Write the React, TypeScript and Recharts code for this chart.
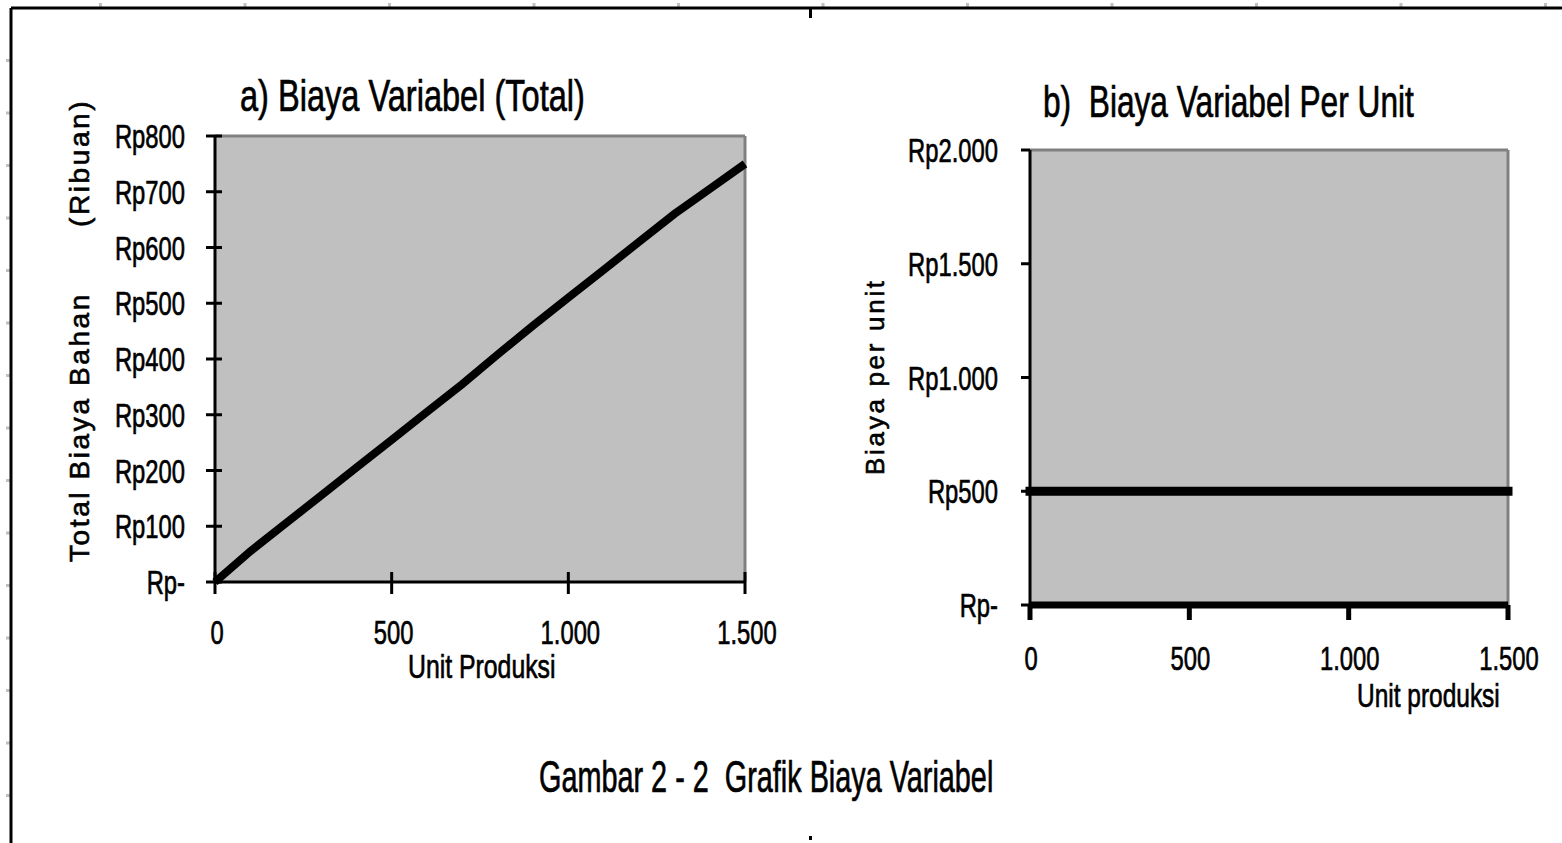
import { LineChart, Line, XAxis, YAxis, CartesianGrid, ReferenceLine } from 'recharts';

// a) total variable cost (Rp, ribuan) by units produced
const unitsTotal = [0, 100, 200, 300, 400, 500, 600, 700, 800, 900, 1000, 1100, 1200, 1300, 1400, 1500];
const costTotal = [0, 55, 105, 155, 205, 255, 305, 355, 408, 460, 510, 560, 610, 660, 705, 750];

// b) variable cost per unit (Rp)
const unitsPerUnit = [0, 1500];
const costPerUnit = [500, 500];

const xTicks = [0, 500, 1000, 1500];
const yTicksTotal = [0, 100, 200, 300, 400, 500, 600, 700, 800];
const yTicksPerUnit = [0, 500, 1000, 1500, 2000];

const FONT = "'Liberation Sans', Arial, sans-serif";

const fmt = (v: number) => String(v).replace(/\B(?=(\d{3})+(?!\d))/g, '.');
const rp = (v: number) => (v === 0 ? 'Rp-' : 'Rp' + fmt(v));

const dataTotal = unitsTotal.map((u, i) => ({ u, c: costTotal[i] }));
const dataPerUnit = unitsPerUnit.map((u, i) => ({ u, c: costPerUnit[i] }));

function Txt({ x, y, size, sx, anchor = 'start', children }: any) {
  return (
    <text
      transform={`translate(${x} ${y}) scale(${sx} 1)`}
      textAnchor={anchor}
      fontSize={size}
      fontFamily={FONT}
      fill="#000"
      stroke="#000"
      strokeWidth={0.7}
      style={{ whiteSpace: 'pre' }}
    >
      {children}
    </text>
  );
}

// ticks that cross the axis line, like the spreadsheet original
const YTickA = ({ y, payload }: any) => (
  <g>
    <line x1={206} x2={222} y1={y} y2={y} stroke="#000" strokeWidth={3} />
    <Txt x={185} y={y + 12} size={34} sx={0.7} anchor="end">{rp(payload.value)}</Txt>
  </g>
);

const XTickA = ({ x, payload }: any) => (
  <g>
    <line x1={x} x2={x} y1={572} y2={594} stroke="#000" strokeWidth={3} />
    <Txt x={x + 2} y={644} size={34} sx={0.7} anchor="middle">{fmt(payload.value)}</Txt>
  </g>
);

const YTickB = ({ y, payload }: any) => (
  <g>
    <line x1={1021 - 800} x2={230} y1={y} y2={y} stroke="#000" strokeWidth={3} />
    <Txt x={998 - 800} y={y + 12} size={34} sx={0.7} anchor="end">{rp(payload.value)}</Txt>
  </g>
);

const XTickB = ({ x, payload }: any) => (
  <g>
    <line x1={x} x2={x} y1={605} y2={620} stroke="#000" strokeWidth={5} />
    <Txt x={x + 1} y={670} size={34} sx={0.7} anchor="middle">{fmt(payload.value)}</Txt>
  </g>
);

export default function App() {
  const topMarks = Array.from({ length: 11 }, (_, i) => 100 + i * 144.5);
  const leftMarks = Array.from({ length: 15 }, (_, i) => 60 + i * 52.5);

  return (
    <div style={{ position: 'absolute', left: 0, top: 0, width: 1562, height: 843, background: '#fff', overflow: 'hidden' }}>
      <div style={{ position: 'absolute', left: 0, top: 0 }}>
        <LineChart width={800} height={700} data={dataTotal} margin={{ top: 136, right: 55, bottom: 0, left: 0 }}>
          <CartesianGrid horizontal={false} vertical={false} fill="#c0c0c0" />
          <ReferenceLine y={800} stroke="#808080" strokeWidth={3} />
          <ReferenceLine x={1500} stroke="#808080" strokeWidth={3} />
          <XAxis
            dataKey="u"
            type="number"
            domain={[0, 1500]}
            ticks={xTicks}
            height={118}
            axisLine={{ stroke: '#000', strokeWidth: 3 }}
            tickLine={false}
            tick={XTickA}
            interval={0}
          />
          <YAxis
            type="number"
            domain={[0, 800]}
            ticks={yTicksTotal}
            width={215}
            axisLine={{ stroke: '#000', strokeWidth: 3 }}
            tickLine={false}
            tick={YTickA}
            interval={0}
          />
          <Line type="linear" dataKey="c" stroke="#000" strokeWidth={8} dot={false} isAnimationActive={false} />
        </LineChart>
      </div>

      <div style={{ position: 'absolute', left: 800, top: 0 }}>
        <LineChart width={762} height={843} data={dataPerUnit} margin={{ top: 150, right: 54, bottom: 0, left: 0 }}>
          <CartesianGrid horizontal={false} vertical={false} fill="#c0c0c0" />
          <ReferenceLine y={2000} stroke="#808080" strokeWidth={3} />
          <ReferenceLine x={1500} stroke="#808080" strokeWidth={3} />
          <XAxis
            dataKey="u"
            type="number"
            domain={[0, 1500]}
            ticks={xTicks}
            height={238}
            axisLine={{ stroke: '#000', strokeWidth: 7 }}
            tickLine={false}
            tick={XTickB}
            interval={0}
          />
          <YAxis
            type="number"
            domain={[0, 2000]}
            ticks={yTicksPerUnit}
            width={230}
            axisLine={{ stroke: '#000', strokeWidth: 3 }}
            tickLine={false}
            tick={YTickB}
            interval={0}
          />
          <Line type="linear" dataKey="c" stroke="#000" strokeWidth={9} strokeLinecap="square" dot={false} isAnimationActive={false} />
        </LineChart>
      </div>

      <svg width={1562} height={843} style={{ position: 'absolute', left: 0, top: 0, pointerEvents: 'none' }}>
        {topMarks.map((x) => (
          <rect key={'t' + x} x={x - 1} y={3} width={3} height={4} fill="#c0c0c0" />
        ))}
        {leftMarks.map((y) => (
          <rect key={'l' + y} x={6} y={y - 1} width={4} height={3} fill="#c0c0c0" />
        ))}
        <line x1={11} y1={8} x2={1562} y2={8} stroke="#000" strokeWidth={3} />
        <line x1={11} y1={8} x2={11} y2={843} stroke="#000" strokeWidth={3} />
        <rect x={809} y={8} width={3} height={10} fill="#000" />
        <rect x={809} y={836} width={3} height={4} fill="#000" />

        <Txt x={240} y={111} size={44} sx={0.74}>a) Biaya Variabel (Total)</Txt>
        <Txt x={1043} y={117} size={44} sx={0.72}>b)  Biaya Variabel Per Unit</Txt>
        <Txt x={408} y={678} size={34} sx={0.73}>Unit Produksi</Txt>
        <Txt x={1357} y={707} size={34} sx={0.72}>Unit produksi</Txt>
        <Txt x={539} y={792} size={44} sx={0.655}>Gambar 2 - 2  Grafik Biaya Variabel</Txt>

        <text transform="translate(89 562) rotate(-90)" fontSize={28} letterSpacing={2.6} fontFamily={FONT} fill="#000" stroke="#000" strokeWidth={0.6}>
          Total Biaya Bahan
        </text>
        <text transform="translate(89 227) rotate(-90)" fontSize={28} letterSpacing={2.6} fontFamily={FONT} fill="#000" stroke="#000" strokeWidth={0.6}>
          (Ribuan)
        </text>
        <text transform="translate(884 475) rotate(-90)" fontSize={26} letterSpacing={2.7} fontFamily={FONT} fill="#000" stroke="#000" strokeWidth={0.6}>
          Biaya per unit
        </text>
      </svg>
    </div>
  );
}
